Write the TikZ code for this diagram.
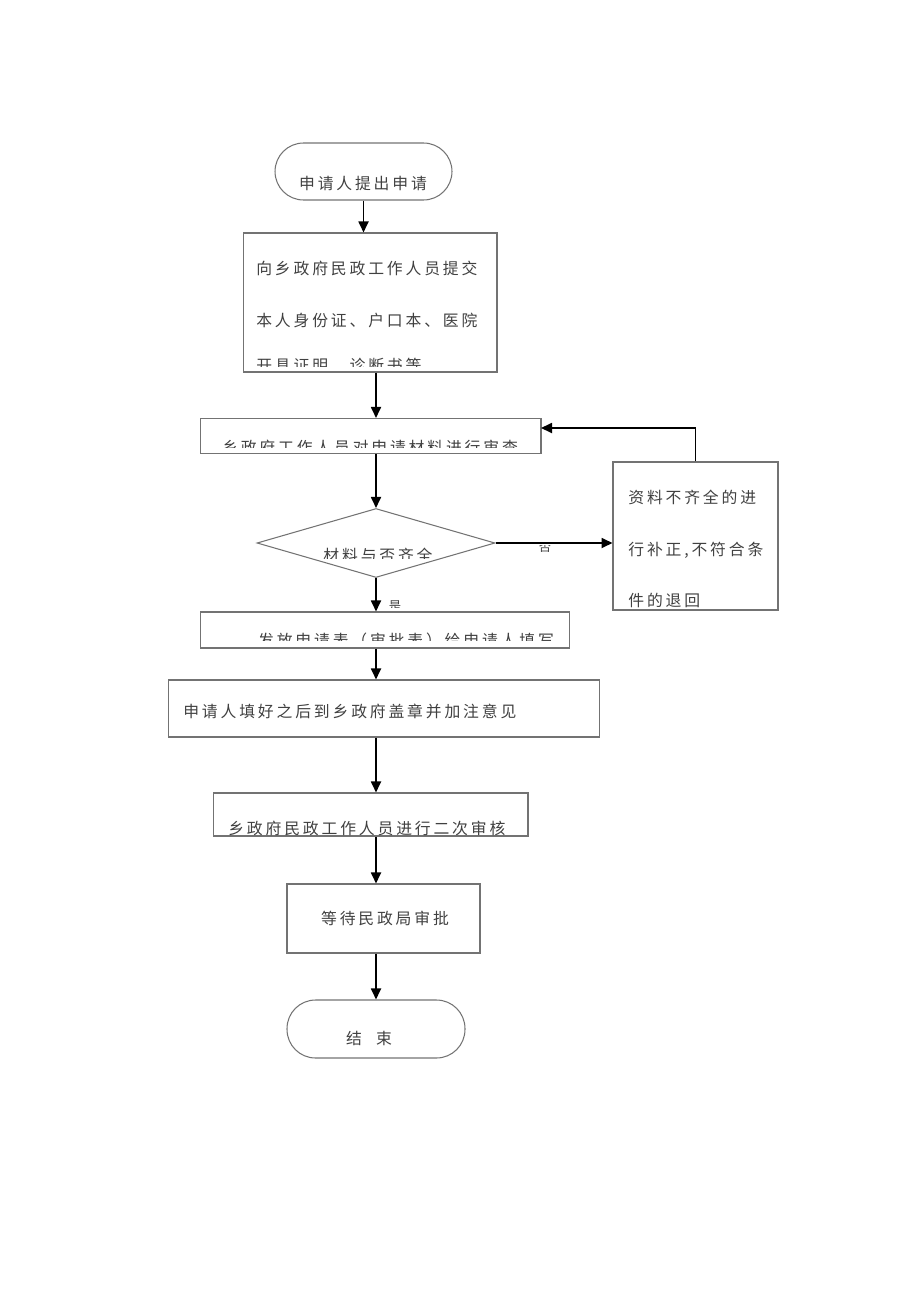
\documentclass[tikz,border=0pt]{standalone}
\usepackage{fontspec}
\newfontfamily\cjk[LetterSpace=18]{Noto Sans CJK SC}
\usetikzlibrary{arrows.meta,shapes.geometric}
\tikzset{
  flowbox/.style={draw=black!55,line width=0.6pt,rectangle,inner sep=0pt},
  termbox/.style={flowbox,rounded corners=0.57cm},
  decbox/.style={draw=black!55,line width=0.6pt,diamond,inner sep=0pt},
  txt/.style={font=\cjk\fontsize{9}{11}\selectfont,text=black!75,inner sep=0pt},
  smalltxt/.style={font=\cjk\fontsize{7}{8}\selectfont,text=black!75,inner sep=0pt},
  flowline/.style={-{Triangle[length=0.22cm,width=0.2cm]},line width=1pt}
}
\begin{document}
\begin{tikzpicture}[x=0.02cm,y=-0.02cm]
\useasboundingbox (0,0) rectangle (920,1301);
\node[termbox,minimum width=3.54cm,minimum height=1.14cm] (start) at (363.5,171.5) {};
\node[txt] (start-t) at (363,183) {申请人提出申请};
\node[flowbox,minimum width=5.08cm,minimum height=2.78cm] (info) at (370,302.5) {};
\node[txt,anchor=west] (info-1) at (256,268) {向乡政府民政工作人员提交};
\node[txt,anchor=west] (info-2) at (256,320) {本人身份证、户口本、医院};
\begin{scope}
  \clip (243,233) rectangle (497,366);
  \node[txt,anchor=west] (info-3) at (256,366) {开具证明、诊断书等};
\end{scope}
\node[flowbox,minimum width=6.82cm,minimum height=0.70cm] (check) at (370.5,436) {};
\begin{scope}
  \clip (200,418) rectangle (541,447);
  \node[txt] (check-t) at (370,447) {乡政府工作人员对申请材料进行审查};
\end{scope}
\node[decbox,minimum width=4.76cm,minimum height=1.38cm] (dec) at (376,543) {};
\begin{scope}
  \clip (300,530) rectangle (460,558);
  \node[txt] (dec-t) at (378,555) {材料与否齐全};
\end{scope}
\node[flowbox,minimum width=3.30cm,minimum height=2.96cm] (fixbox) at (695.5,536) {};
\node[txt,anchor=west] (fix-1) at (628,497) {资料不齐全的进};
\node[txt,anchor=west] (fix-2) at (628,550) {行补正,不符合条};
\node[txt,anchor=west] (fix-3) at (628,600) {件的退回};
\node[flowbox,minimum width=7.40cm,minimum height=0.72cm] (form) at (385,630) {};
\begin{scope}
  \clip (200,612) rectangle (570,640);
  \node[txt] (form-t) at (406,640) {发放申请表（审批表）给申请人填写};
\end{scope}
\node[flowbox,minimum width=8.64cm,minimum height=1.14cm] (stamp) at (384,708.5) {};
\node[txt,anchor=west] (stamp-t) at (183,711) {申请人填好之后到乡政府盖章并加注意见};
\node[flowbox,minimum width=6.30cm,minimum height=0.86cm] (review) at (370.5,814.5) {};
\node[txt,anchor=west] (review-t) at (228,828) {乡政府民政工作人员进行二次审核};
\node[flowbox,minimum width=3.86cm,minimum height=1.38cm] (wait) at (383.5,918.5) {};
\node[txt] (wait-t) at (385,918) {等待民政局审批};
\node[termbox,minimum width=3.56cm,minimum height=1.16cm] (stop) at (376,1029) {};
\node[txt] (stop-t) at (369,1038) {结\hspace{0.28cm}束};
\begin{scope}
  \clip (530,545) rectangle (560,560);
  \node[smalltxt] (no) at (545,547) {否};
\end{scope}
\begin{scope}
  \clip (380,590) rectangle (410,607);
  \node[smalltxt] (yes) at (395,606) {是};
\end{scope}
\coordinate (back) at (541,428);
\draw[flowline] (start.south) -- (start.south |- info.north);
\draw[flowline] (dec.north |- info.south) -- (dec.north |- check.north);
\draw[flowline] (dec.north |- check.south) -- (dec.north);
\draw[flowline] (dec.east) -- (fixbox.west |- dec.east);
\draw[flowline] (fixbox.north) |- (back);
\draw[flowline] (dec.south) -- (dec.south |- form.north);
\draw[flowline] (dec.south |- form.south) -- (dec.south |- stamp.north);
\draw[flowline] (dec.south |- stamp.south) -- (dec.south |- review.north);
\draw[flowline] (dec.south |- review.south) -- (dec.south |- wait.north);
\draw[flowline] (dec.south |- wait.south) -- (stop.north);
\end{tikzpicture}
\end{document}
